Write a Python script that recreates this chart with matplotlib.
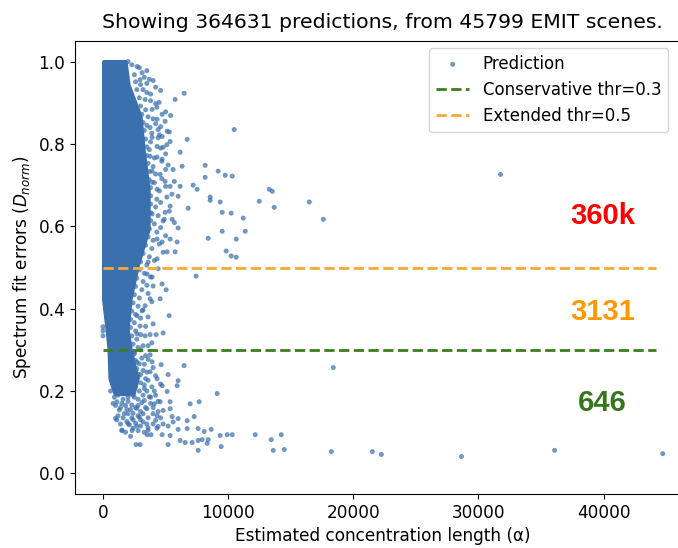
import matplotlib.pyplot as plt
import numpy as np

# headline numbers
n_pred = 364631
n_scenes = 45799

# dense body of the cloud: y levels with left / right alpha edge
core_y = [1.000, 0.944, 0.867, 0.787, 0.690, 0.593, 0.504, 0.424, 0.351, 0.303, 0.230, 0.194]
core_lo = [40, 40, 40, 40, 40, 40, 40, 40, 320, 480, 560, 960]
core_hi = [1760, 2000, 2960, 3200, 3600, 3600, 2720, 2160, 1920, 2160, 2720, 2400]

# individual predictions outside the dense body (alpha, D_norm)
pred_alpha = [
    2000, 2720, 3120, 2960, 4000, 3200, 3360, 4480, 5760, 6480, 3920, 4720,
    4320, 4960, 3760, 4400, 5120, 10480, 6720, 3920, 4720, 5360, 4320, 4800,
    6160, 3760, 4320, 4720, 5600, 6320, 8160, 8160, 9200, 9760, 10320, 3920,
    4560, 4960, 5360, 6160, 7200, 7520, 3920, 4320, 6000, 8560,
    13280, 13520, 12480, 13680, 9360, 9520, 10240, 11200,
    5360, 6800, 8560, 6000, 5520, 4960, 4800, 3920, 4320, 4720, 5360, 5920,
    5760, 5120, 4320, 3600, 8400, 9520, 9840, 10640, 7440, 3520, 3920, 4000,
    4720, 5040, 4560, 3760, 3360, 5280, 3120, 2720, 3600, 4000, 2960, 2720,
    3360, 3760, 4240, 4800, 3200, 3600, 0, 0, 0,
    11360, 10640, 10240, 16480, 17600, 31760,
    3760, 4640, 3920, 6480, 5200, 6000, 5920, 3760, 4320, 4720, 9120, 7680,
    6960, 5120, 5360, 5360, 4560, 4800, 4320, 7280, 6720, 6000, 5520,
    8640, 9360, 9920, 10320, 12160, 13440, 14240, 13600, 14480, 9440, 7600,
    5200, 6160, 6560, 7120, 7600, 7920, 8320, 8400, 8080, 7600, 6720, 6000,
    5360, 4720, 3840, 3520, 2960, 2640, 2320, 1520, 2000, 2800, 3600, 4400,
    18240, 21520, 22240, 28640, 36080, 44720, 18400,
    1200, 1600, 2000, 2400, 2800, 3200, 1000, 1400, 1800, 2200, 2600, 3000,
    3400, 3800, 1200, 1600, 2000, 2400, 2800, 3200, 3600, 4000, 4400, 1400,
    2400, 3000, 3300, 4000, 4800, 5200, 5600, 2200, 2600, 3000, 3500, 3900,
    4200, 2800, 3200, 3400, 2700, 3100, 2500, 3000, 3300, 800, 600, 900,
]
pred_dnorm = [
    1.000, 0.988, 0.973, 0.956, 0.954, 0.932, 0.908, 0.901, 0.908, 0.923, 0.884, 0.872,
    0.860, 0.855, 0.840, 0.835, 0.831, 0.835, 0.811, 0.816, 0.818, 0.806, 0.794, 0.792,
    0.780, 0.770, 0.768, 0.763, 0.738, 0.746, 0.748, 0.719, 0.734, 0.724, 0.722, 0.734,
    0.726, 0.709, 0.697, 0.697, 0.700, 0.690, 0.707, 0.690, 0.673, 0.671,
    0.690, 0.685, 0.661, 0.646, 0.659, 0.634, 0.632, 0.620,
    0.649, 0.644, 0.663, 0.596, 0.617, 0.634, 0.613, 0.630, 0.569, 0.562, 0.569, 0.562,
    0.538, 0.538, 0.521, 0.513, 0.571, 0.588, 0.540, 0.525, 0.479, 0.484, 0.477, 0.455,
    0.460, 0.446, 0.424, 0.424, 0.407, 0.383, 0.395, 0.383, 0.380, 0.363, 0.358, 0.339,
    0.334, 0.337, 0.337, 0.341, 0.310, 0.310, 0.346, 0.334, 0.356,
    0.588, 0.569, 0.528, 0.659, 0.617, 0.726,
    0.288, 0.264, 0.271, 0.262, 0.240, 0.225, 0.213, 0.247, 0.230, 0.213, 0.194, 0.174,
    0.169, 0.199, 0.174, 0.157, 0.174, 0.153, 0.140, 0.138, 0.128, 0.133, 0.138,
    0.107, 0.092, 0.094, 0.094, 0.094, 0.082, 0.094, 0.056, 0.058, 0.065, 0.056,
    0.070, 0.080, 0.075, 0.075, 0.080, 0.082, 0.073, 0.082, 0.102, 0.109, 0.109, 0.107,
    0.092, 0.094, 0.094, 0.094, 0.070, 0.070, 0.104, 0.104, 0.121, 0.104, 0.111, 0.114,
    0.053, 0.053, 0.046, 0.041, 0.056, 0.048, 0.257,
    0.190, 0.180, 0.185, 0.190, 0.180, 0.190, 0.165, 0.160, 0.165, 0.155, 0.160, 0.150,
    0.160, 0.170, 0.140, 0.135, 0.145, 0.130, 0.140, 0.125, 0.135, 0.145, 0.150, 0.120,
    0.110, 0.115, 0.100, 0.120, 0.120, 0.115, 0.125, 0.200, 0.210, 0.220, 0.200, 0.210,
    0.190, 0.240, 0.250, 0.230, 0.270, 0.280, 0.290, 0.300, 0.265, 0.170, 0.200, 0.215,
]

# ragged fringe along the right side of the dense body
fringe_alpha = [
    2300, 2900, 3500, 2500, 3300, 3700, 2600, 3000, 3500, 4200, 2700, 3500, 3800, 4600,
    2900, 3800, 4200, 3000, 3400, 4300, 5000, 3100, 3600, 4000, 5400, 3200, 3500, 4200, 4600,
    3300, 3900, 4500, 5300, 3400, 3800, 4400, 3500, 3700, 4600, 5100, 3500, 4100, 5000,
    3600, 4000, 4700, 5200, 3700, 4200, 5000, 3700, 4100, 4700, 5700, 3800, 4500, 5000,
    3800, 4300, 5100, 5500, 3800, 4200, 4600, 3800, 4400, 5300, 3800, 4100, 4900, 5700,
    3700, 4300, 4600, 3600, 4000, 5000, 3400, 3900, 4500, 3200, 3700, 4800,
    3000, 3500, 4100, 2900, 3300, 4400, 2700, 3200, 3800, 2600, 3100, 3500,
    2500, 2900, 3600, 2400, 2800, 3900, 2300, 2600, 3200, 2200, 2500, 3000,
    2200, 2600, 3400, 2300, 2700, 3000, 2400, 2800, 3900,
    2500, 3400, 2600, 2900, 3600, 2700, 3500, 4000, 2800, 3600, 4200, 1500, 3300, 4600,
    1800, 3700, 1100, 2300, 3300, 4100, 1300, 2400, 3500, 1000, 1900, 2900, 4200,
    2900, 3100, 2700, 1700, 2100, 2600, 3800, 4100, 4400, 3600, 4600, 1800, 2200,
    1300, 1700, 2100, 900, 1200, 2500, 3000, 3300, 1600, 2000, 2500, 2800,
    3200, 1500, 900, 1900, 2300, 2700, 3000, 3500, 4000, 4300, 1500, 1100,
]
fringe_dnorm = [
    0.992, 0.985, 0.978, 0.968, 0.962, 0.957, 0.951, 0.944, 0.947, 0.938, 0.932, 0.925, 0.921, 0.930,
    0.912, 0.905, 0.898, 0.892, 0.883, 0.889, 0.878, 0.872, 0.866, 0.861, 0.869, 0.852, 0.845, 0.849, 0.842,
    0.833, 0.826, 0.822, 0.829, 0.812, 0.805, 0.815, 0.793, 0.786, 0.790, 0.798, 0.772, 0.766, 0.776,
    0.753, 0.745, 0.758, 0.749, 0.733, 0.727, 0.738, 0.713, 0.706, 0.716, 0.709, 0.694, 0.686, 0.697,
    0.674, 0.666, 0.671, 0.678, 0.654, 0.647, 0.658, 0.633, 0.626, 0.637, 0.614, 0.606, 0.617, 0.609,
    0.594, 0.586, 0.597, 0.574, 0.566, 0.577, 0.554, 0.546, 0.557, 0.534, 0.526, 0.537,
    0.514, 0.506, 0.517, 0.494, 0.486, 0.497, 0.474, 0.466, 0.477, 0.454, 0.446, 0.457,
    0.434, 0.426, 0.437, 0.414, 0.406, 0.417, 0.394, 0.386, 0.397, 0.374, 0.366, 0.377,
    0.354, 0.346, 0.357, 0.334, 0.326, 0.337, 0.314, 0.306, 0.317,
    0.294, 0.286, 0.274, 0.266, 0.277, 0.254, 0.246, 0.257, 0.234, 0.226, 0.237, 0.214, 0.206, 0.217,
    0.194, 0.186, 0.174, 0.166, 0.177, 0.169, 0.154, 0.146, 0.157, 0.134, 0.126, 0.137, 0.129,
    0.200, 0.172, 0.158, 0.145, 0.118, 0.122, 0.185, 0.200, 0.175, 0.105, 0.135, 0.100, 0.090,
    0.235, 0.250, 0.270, 0.250, 0.210, 0.225, 0.240, 0.215, 0.195, 0.175, 0.185, 0.165,
    0.145, 0.170, 0.185, 0.155, 0.135, 0.115, 0.130, 0.120, 0.160, 0.110, 0.105, 0.130,
]

thresholds = [0.3, 0.5]
thr_labels = ['Conservative thr=0.3', 'Extended thr=0.5']
thr_colors = ['#3b7d23', '#f7a935']

# counts shown next to each band
band_counts = ['360k', '3131', '646']
band_y = [0.625, 0.392, 0.172]
band_colors = ['#ff0000', '#ff9900', '#38761d']

blue = '#3a70ad'

all_alpha = pred_alpha + fringe_alpha
all_dnorm = pred_dnorm + fringe_dnorm

fig = plt.figure(figsize=(6.78, 5.48), dpi=100)
ax = fig.add_axes([75 / 678, 54 / 548, 615 / 678, 453 / 548])

ax.fill_betweenx(core_y, core_lo, core_hi, color=blue, linewidth=3, zorder=2)
ax.scatter(all_alpha, all_dnorm, s=13, color=blue, alpha=0.72,
           edgecolors='none', label='Prediction', zorder=3)

ax.hlines(thresholds[0], 0, 44200, colors=thr_colors[0], linestyles='--',
          linewidth=2, label=thr_labels[0], zorder=4)
ax.hlines(thresholds[1], 0, 44200, colors=thr_colors[1], linestyles='--',
          linewidth=2, label=thr_labels[1], zorder=4)

for txt, yy, col in zip(band_counts, band_y, band_colors):
    ax.text(39920, yy, txt, color=col, fontsize=21, fontweight='bold',
            family='Liberation Sans', ha='center', va='center', zorder=5)

ax.set_xlim(-2240, 46900)
ax.set_ylim(-0.05, 1.05)
ax.set_xticks([0, 10000, 20000, 30000, 40000])
ax.set_yticks([0.0, 0.2, 0.4, 0.6, 0.8, 1.0])
ax.tick_params(labelsize=12.2)

ax.set_title(f'Showing {n_pred} predictions, from {n_scenes} EMIT scenes.',
             fontsize=14.7, pad=9)
ax.set_xlabel('Estimated concentration length (\u03b1)', fontsize=12.2)
ax.set_ylabel('Spectrum fit errors ($D_{norm}$)', fontsize=12.2)

ax.legend(loc='upper right', bbox_to_anchor=(668 / 678, 1 - 48 / 548),
          bbox_transform=fig.transFigure, borderaxespad=0, fontsize=12)

fig.savefig('out.png', dpi=100)
